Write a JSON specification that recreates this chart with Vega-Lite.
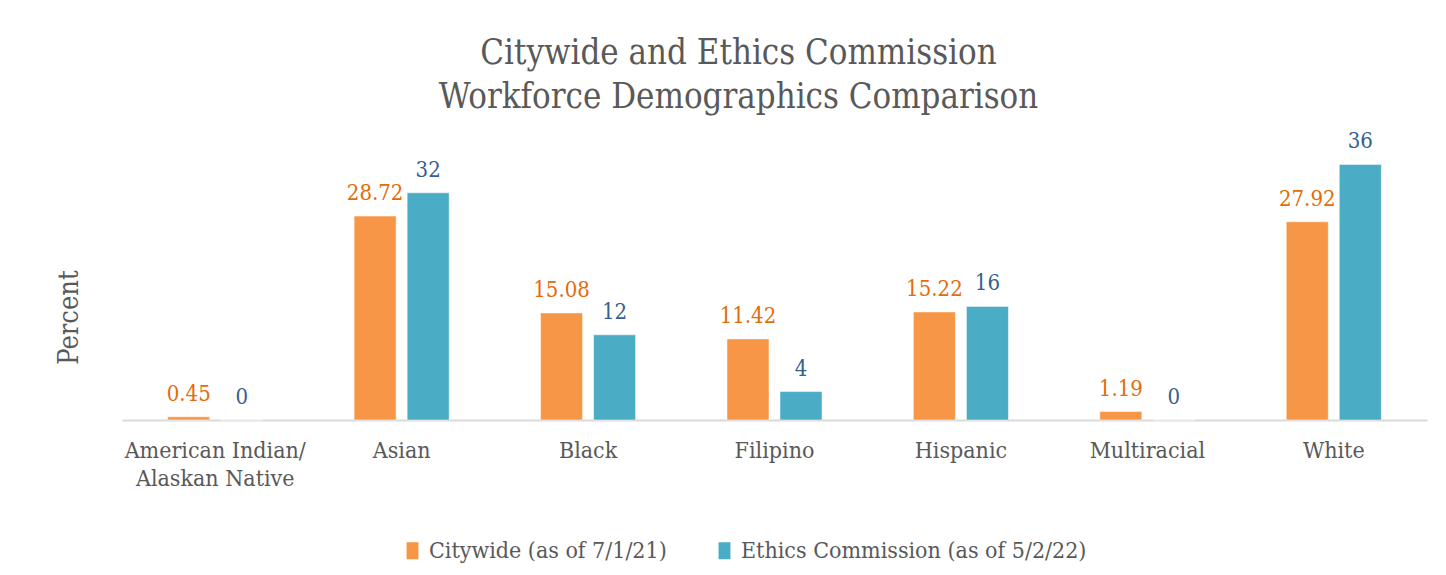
{
  "$schema": "https://vega.github.io/schema/vega-lite/v6.json",
  "width": 1305,
  "height": 284,
  "autosize": "none",
  "padding": {"left": 122, "top": 136, "right": 19, "bottom": 155},
  "background": "#ffffff",
  "config": {"view": {"stroke": null}},
  "title": {
    "text": ["Citywide and Ethics Commission", "Workforce Demographics Comparison"],
    "font": "DejaVu Serif Condensed, Liberation Serif, serif",
    "fontSize": 34.5,
    "fontWeight": "normal",
    "color": "#595959",
    "lineHeight": 44,
    "anchor": "middle",
    "frame": "group",
    "dx": -36,
    "offset": 15
  },
  "data": {
    "values": [
      {"category": "American Indian/ Alaskan Native", "series": "Citywide (as of 7/1/21)", "value": 0.45},
      {"category": "American Indian/ Alaskan Native", "series": "Ethics Commission (as of 5/2/22)", "value": 0},
      {"category": "Asian", "series": "Citywide (as of 7/1/21)", "value": 28.72},
      {"category": "Asian", "series": "Ethics Commission (as of 5/2/22)", "value": 32},
      {"category": "Black", "series": "Citywide (as of 7/1/21)", "value": 15.08},
      {"category": "Black", "series": "Ethics Commission (as of 5/2/22)", "value": 12},
      {"category": "Filipino", "series": "Citywide (as of 7/1/21)", "value": 11.42},
      {"category": "Filipino", "series": "Ethics Commission (as of 5/2/22)", "value": 4},
      {"category": "Hispanic", "series": "Citywide (as of 7/1/21)", "value": 15.22},
      {"category": "Hispanic", "series": "Ethics Commission (as of 5/2/22)", "value": 16},
      {"category": "Multiracial", "series": "Citywide (as of 7/1/21)", "value": 1.19},
      {"category": "Multiracial", "series": "Ethics Commission (as of 5/2/22)", "value": 0},
      {"category": "White", "series": "Citywide (as of 7/1/21)", "value": 27.92},
      {"category": "White", "series": "Ethics Commission (as of 5/2/22)", "value": 36}
    ]
  },
  "encoding": {
    "x": {
      "field": "category",
      "type": "nominal",
      "sort": null,
      "scale": {"paddingInner": 0.49, "paddingOuter": 0.245},
      "axis": {
        "title": null,
        "labelAngle": 0,
        "labelFont": "DejaVu Serif Condensed, Liberation Serif, serif",
        "labelFontSize": 23,
        "labelColor": "#595959",
        "labelPadding": 19,
        "labelLineHeight": 28,
        "labelBaseline": "top",
        "labelLimit": 400,
        "labelExpr": "datum.label == 'American Indian/ Alaskan Native' ? ['American Indian/', 'Alaskan Native'] : datum.label",
        "ticks": false,
        "domainColor": "#D9D9D9",
        "domainWidth": 2,
        "grid": false
      }
    },
    "xOffset": {
      "field": "series",
      "type": "nominal",
      "scale": {"paddingInner": 0.2075, "paddingOuter": 0}
    },
    "y": {
      "field": "value",
      "type": "quantitative",
      "scale": {"domain": [0, 40], "nice": false},
      "axis": {
        "title": "Percent",
        "titleFont": "DejaVu Serif Condensed, Liberation Serif, serif",
        "titleFontSize": 27,
        "titleFontWeight": "normal",
        "titleColor": "#595959",
        "titleX": -45,
        "titleY": 181,
        "titleAngle": -90,
        "titleAlign": "center",
        "titleBaseline": "alphabetic",
        "labels": false,
        "ticks": false,
        "domain": false,
        "grid": false
      }
    }
  },
  "layer": [
    {
      "mark": {"type": "bar", "stroke": "#ffffff", "strokeWidth": 0.5},
      "encoding": {
        "color": {
          "field": "series",
          "type": "nominal",
          "scale": {
            "domain": ["Citywide (as of 7/1/21)", "Ethics Commission (as of 5/2/22)"],
            "range": ["#F79646", "#4BACC6"]
          },
          "legend": {
            "title": null,
            "orient": "none",
            "legendX": 279,
            "legendY": 403,
            "direction": "horizontal",
            "symbolType": "M-0.7,-1H0.7V1H-0.7Z",
            "symbolSize": 289,
            "symbolStrokeWidth": 0,
            "labelFont": "DejaVu Serif Condensed, Liberation Serif, serif",
            "labelFontSize": 23,
            "labelColor": "#595959",
            "labelOffset": 5,
            "columnPadding": 46,
            "labelLimit": 500
          }
        }
      }
    },
    {
      "mark": {
        "type": "text",
        "baseline": "alphabetic",
        "dy": -16,
        "font": "DejaVu Serif Condensed, Liberation Serif, serif",
        "fontSize": 22
      },
      "encoding": {
        "text": {"field": "value", "type": "quantitative"},
        "color": {
          "condition": {"test": "datum.series === 'Citywide (as of 7/1/21)'", "value": "#E36C0A"},
          "value": "#365F91"
        }
      }
    }
  ]
}
